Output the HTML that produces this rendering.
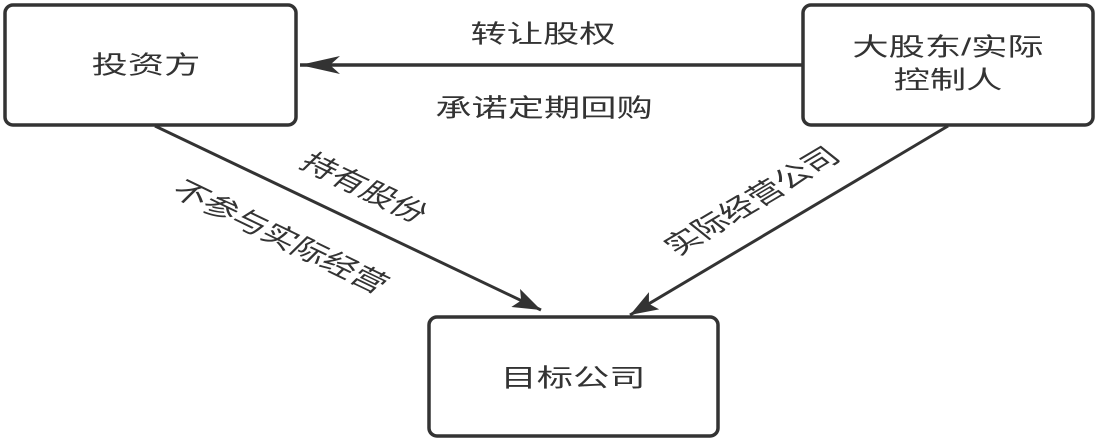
<!DOCTYPE html>
<html><head><meta charset="utf-8"><style>
html,body{margin:0;padding:0;background:#fff;}
svg{display:block;}
text{font-family:"Liberation Sans","Noto Sans CJK SC",sans-serif;font-size:25px;fill:#333;}
</style></head><body>
<svg width="1099" height="440" viewBox="0 0 1099 440" xmlns="http://www.w3.org/2000/svg">
<defs>
<marker id="a" viewBox="0 0 40 18" refX="40" refY="9" markerWidth="40" markerHeight="18" markerUnits="userSpaceOnUse" orient="auto">
<path d="M0,0 L40,9 L0,18 L10,9 Z" fill="#333"/>
</marker>
<marker id="b" viewBox="0 0 28 20" refX="28" refY="10" markerWidth="28" markerHeight="20" markerUnits="userSpaceOnUse" orient="auto">
<path d="M0,0 L28,10 L0,20 L6,10 Z" fill="#333"/>
</marker>
</defs>
<g fill="none" stroke="#333" stroke-width="3.5">
<rect x="5" y="5" width="291" height="120" rx="8"/>
<rect x="803" y="5" width="290" height="120" rx="8"/>
<rect x="429" y="317" width="289" height="119" rx="8"/>
</g>
<g stroke="#333" stroke-width="3">
<line x1="803" y1="65" x2="300" y2="65" stroke-width="3.5" marker-end="url(#a)"/>
<line x1="155" y1="126" x2="541" y2="310" marker-end="url(#b)"/>
<line x1="948" y1="126" x2="630" y2="315" marker-end="url(#b)"/>
</g>
<g text-anchor="middle" dominant-baseline="central">
<text transform="translate(146,65) scale(1.45,1)">投资方</text>
<text transform="translate(948,47) scale(1.45,1)">大股东/实际</text>
<text transform="translate(948,80) scale(1.45,1)">控制人</text>
<text transform="translate(573,378) scale(1.45,1)">目标公司</text>
<text transform="translate(543,34) scale(1.45,1)">转让股权</text>
<text transform="translate(544,108) scale(1.45,1)">承诺定期回购</text>
<text transform="translate(364,188) scale(1.45,1) rotate(35)">持有股份</text>
<text transform="translate(280,237) scale(1.45,1) rotate(35)">不参与实际经营</text>
<text transform="translate(752,201) scale(1.45,1) rotate(-40.8)">实际经营公司</text>
</g>
</svg>
</body></html>
